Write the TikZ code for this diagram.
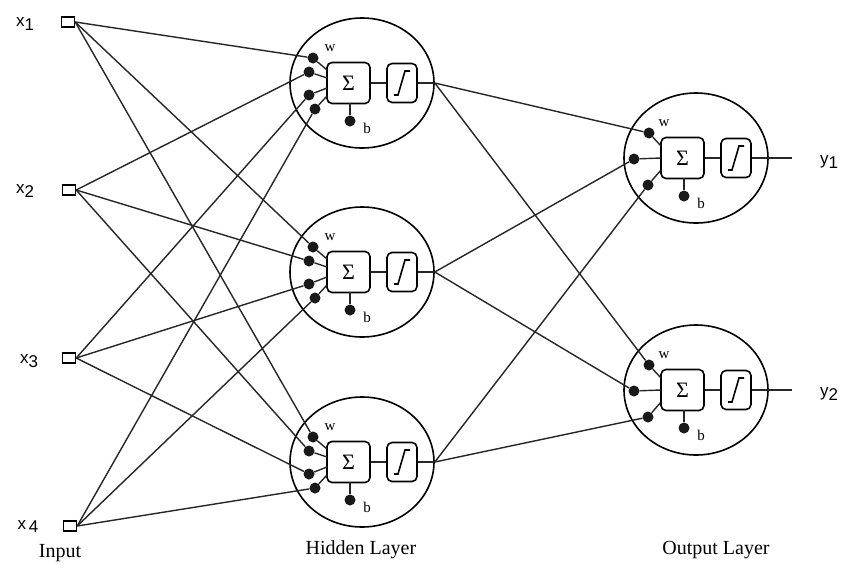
\documentclass[tikz,border=0pt]{standalone}
\usepackage{fontspec}
\setmainfont{Liberation Serif}
\newfontfamily\labfont{Liberation Sans}
\usetikzlibrary{shapes.geometric}

\tikzset{
  wire/.style={line width=1.4pt, black!85},
  body/.style={draw, ellipse, line width=1.6pt, minimum width=144pt, minimum height=130pt, inner sep=0pt},
  sumbox/.style={draw, rounded corners=5pt, line width=1.6pt, minimum width=43pt, minimum height=41pt, inner sep=0pt, fill=white, font=\fontsize{22}{22}\selectfont},
  actbox/.style={draw, rounded corners=5pt, line width=1.6pt, minimum width=30pt, minimum height=39pt, inner sep=0pt, fill=white},
  wdot/.style={circle, fill=black!90, inner sep=0pt, minimum size=11pt},
  inbox/.style={draw, line width=1.4pt, minimum width=13pt, minimum height=10pt, inner sep=0pt, fill=white},
  small/.style={inner sep=0pt, font=\fontsize{15}{15}\selectfont},
  varlab/.style={inner sep=0pt, font=\labfont\fontsize{17}{17}\selectfont},
  layerlab/.style={inner sep=0pt, font=\fontsize{20}{20}\selectfont},
}

% common parts of one neuron: body, summing box, activation box, bias
\newcommand\neuroncore{%
  \node[body] (-c) at (0,0) {};
  \draw[wire] (-13.5,0) -- (40,0);
  \draw[wire] (40,0) -- (-c.east);
  \node[sumbox] (-s) at (-13.5,0) {Σ};
  \node[actbox] (-g) at (40,0) {};
  \draw[line width=1.6pt] (32,12) -- (36,12) -- (43,-12) -- (48,-12);
  \node[wdot] (-b) at (-12,38) {};
  \draw[wire] (-b) -- (-12,20);
  \node[small] (-bl) at (5,45) {b};
  \node[small] (-wl) at (-32,-35) {w};
}

\tikzset{
  hiddenneuron/.pic={
    \neuroncore
    \node[wdot] (-d1) at (-49,-25) {};
    \node[wdot] (-d2) at (-53,-11) {};
    \node[wdot] (-d3) at (-53,12) {};
    \node[wdot] (-d4) at (-47,26) {};
    \draw[wire] (-d1) -- (-35,-13);
    \draw[wire] (-d2) -- (-35,-5);
    \draw[wire] (-d3) -- (-35,5);
    \draw[wire] (-d4) -- (-35,13);
  },
  outputneuron/.pic={
    \neuroncore
    \node[wdot] (-d1) at (-47,-25) {};
    \node[wdot] (-d2) at (-62,1) {};
    \node[wdot] (-d3) at (-48,27) {};
    \draw[wire] (-d1) -- (-35,-12);
    \draw[wire] (-d2) -- (-35,0);
    \draw[wire] (-d3) -- (-35,12);
  },
}

\begin{document}
\begin{tikzpicture}[x=1pt, y=-1pt]
  \useasboundingbox[fill=white] (0,0) rectangle (844,573);

  % inputs
  \node[inbox] (in1) at (68,22) {};
  \node[inbox] (in2) at (69,190) {};
  \node[inbox] (in3) at (69,358) {};
  \node[inbox] (in4) at (70,526) {};
  \node[varlab] (lx1) at (25,24) {x\raisebox{-4pt}{1}};
  \node[varlab] (lx2) at (25,191) {x\raisebox{-4pt}{2}};
  \node[varlab] (lx3) at (29,361) {x\raisebox{-4pt}{3}};
  \node[varlab] (lx4) at (28,527) {x\,\raisebox{-3pt}{4}};

  % neurons
  \pic (h1) at (362,83) {hiddenneuron};
  \pic (h2) at (362,272) {hiddenneuron};
  \pic (h3) at (362,462) {hiddenneuron};
  \pic (o1) at (696,158) {outputneuron};
  \pic (o2) at (696,390) {outputneuron};

  % input -> hidden weights
  \foreach \i in {1,2,3,4}{
    \foreach \j in {1,2,3}{
      \draw[wire] (in\i.east) -- (h\j-d\i);
    }
  }
  % hidden -> output weights
  \foreach \j in {1,2,3}{
    \foreach \k in {1,2}{
      \draw[wire] (h\j-c.east) -- (o\k-d\j);
    }
  }

  % outputs
  \coordinate (y1end) at (792,158);
  \coordinate (y2end) at (792,390);
  \draw[wire] (o1-c.east) -- (y1end);
  \draw[wire] (o2-c.east) -- (y2end);
  \node[varlab] (ly1) at (829,162) {y\raisebox{-4pt}{1}};
  \node[varlab] (ly2) at (829,394) {y\raisebox{-4pt}{2}};

  % layer captions
  \node[layerlab] (cin) at (60,553) {Input};
  \node[layerlab] (chid) at (361,550) {Hidden Layer};
  \node[layerlab] (cout) at (716,550) {Output Layer};
\end{tikzpicture}
\end{document}
